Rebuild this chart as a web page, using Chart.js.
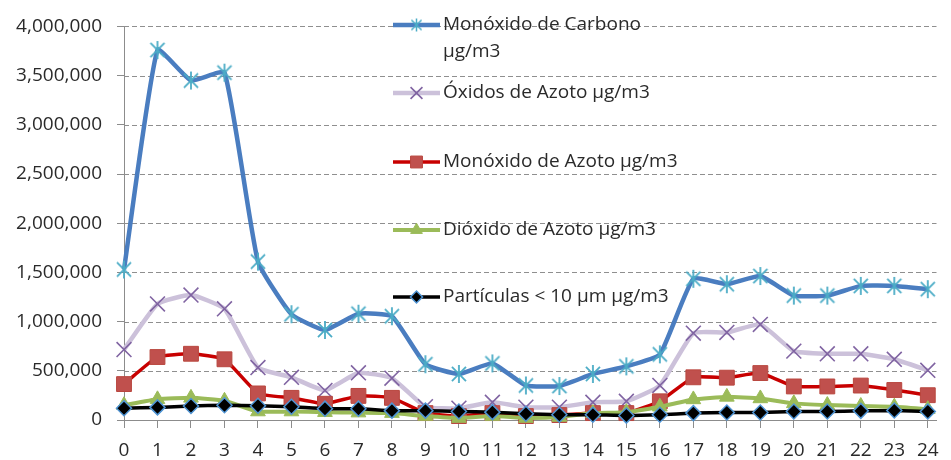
<!DOCTYPE html>
<html>
<head>
<meta charset="utf-8">
<script src="https://cdn.jsdelivr.net/npm/chart.js@4.4.1/dist/chart.umd.min.js"></script>
<style>
  html, body { margin: 0; padding: 0; background: #ffffff; }
  canvas { display: block; }
</style>
</head>
<body>
<canvas id="chart" width="951" height="460"></canvas>
<script>
// Hours of the day (x categories) and y-axis ticks
const hours = [0,1,2,3,4,5,6,7,8,9,10,11,12,13,14,15,16,17,18,19,20,21,22,23,24];
const yTickValues = [0,500000,1000000,1500000,2000000,2500000,3000000,3500000,4000000];

// Legend labels (already split into the lines they are shown on)
const seriesLabels = [
  ['Monóxido de Carbono', 'µg/m3'],
  ['Óxidos de Azoto µg/m3'],
  ['Monóxido de Azoto µg/m3'],
  ['Dióxido de Azoto µg/m3'],
  ['Partículas < 10 µm µg/m3']
];

// Hourly concentrations
const carbonMonoxide  = [1530000,3760000,3450000,3530000,1610000,1075000,915000,1080000,1055000,567000,468000,575000,351000,345000,468000,545000,667000,1435000,1380000,1463000,1264000,1264000,1363000,1363000,1330000];
const nitrogenOxides  = [716000,1180000,1270000,1130000,533000,434000,301000,480000,425000,135000,120000,180000,130000,130000,180000,190000,351000,882000,890000,971000,700000,673000,673000,617000,505000];
const nitricOxide     = [365000,640000,673000,617000,270000,225000,165000,245000,225000,70000,40000,70000,40000,50000,70000,70000,190000,434000,430000,477000,341000,341000,350000,305000,252000];
const nitrogenDioxide = [150000,210000,225000,195000,86000,86000,80000,75000,70000,40000,20000,40000,20000,30000,70000,80000,135000,209000,235000,219000,169000,152000,142000,135000,110000];
const particles       = [120000,128000,142000,150000,145000,135000,115000,115000,95000,95000,86000,80000,63000,53000,53000,45000,53000,70000,76000,76000,86000,86000,93000,96000,86000];

const FONT = '"Open Sans", "Noto Sans", sans-serif';
const TEXT = '#2a2a2a';
const AXIS = '#8c8c8c';
Chart.defaults.font.family = FONT;
Chart.defaults.font.size = 19;
Chart.defaults.color = TEXT;

// Six-armed asterisk marker (an X with a vertical stroke)
function asterisk(size, color, width) {
  const c = document.createElement('canvas');
  c.width = size; c.height = size;
  const g = c.getContext('2d');
  const m = size / 2, r = size / 2 - 1, d = r * 0.78;
  g.strokeStyle = color;
  g.lineWidth = width;
  g.beginPath();
  g.moveTo(m, m - r); g.lineTo(m, m + r);
  g.moveTo(m - d, m - d); g.lineTo(m + d, m + d);
  g.moveTo(m - d, m + d); g.lineTo(m + d, m - d);
  g.stroke();
  return c;
}
const starMarker = asterisk(20, '#4bacc6', 1.8);
const starMarkerSmall = asterisk(15, '#4bacc6', 1.5);

const toPoints = arr => arr.map((v, i) => ({ x: hours[i], y: v }));

const datasets = [
  { label: seriesLabels[0], data: toPoints(carbonMonoxide), borderColor: '#4a7dc0', borderWidth: 4.5,
    pointStyle: starMarker, legendStyle: starMarkerSmall, pointRadius: 10, order: 5 },
  { label: seriesLabels[1], data: toPoints(nitrogenOxides), borderColor: '#ccc1da', borderWidth: 4.5,
    pointStyle: 'crossRot', pointRadius: 10.5, pointBorderColor: '#8064a2', pointBackgroundColor: '#8064a2',
    pointBorderWidth: 1.6, order: 4 },
  { label: seriesLabels[2], data: toPoints(nitricOxide), borderColor: '#c80000', borderWidth: 3.5,
    pointStyle: 'rect', pointRadius: 10.5, pointBorderColor: '#b9473f', pointBackgroundColor: '#c0504d',
    pointBorderWidth: 1, order: 3 },
  { label: seriesLabels[3], data: toPoints(nitrogenDioxide), borderColor: '#9bbb59', borderWidth: 4,
    pointStyle: 'triangle', pointRadius: 8.5, pointBorderColor: '#9bbb59', pointBackgroundColor: '#9bbb59',
    pointBorderWidth: 1, order: 2 },
  { label: seriesLabels[4], data: toPoints(particles), borderColor: '#000000', borderWidth: 3.5,
    pointStyle: 'rectRot', pointRadius: 7.5, pointBorderColor: '#4f94d4', pointBackgroundColor: '#000000',
    pointBorderWidth: 1.5, order: 1 }
];
datasets.forEach(d => {
  d.tension = 0.14;
  d.clip = false;
  d.fill = false;
  d.pointHoverRadius = d.pointRadius;
});

// Dashed horizontal grid lines at each y tick (the zero line is the x axis)
const dashedGrid = {
  id: 'dashedGrid',
  beforeDatasetsDraw(chart) {
    const { ctx, chartArea, scales } = chart;
    ctx.save();
    ctx.strokeStyle = '#8f8f8f';
    ctx.lineWidth = 1;
    ctx.setLineDash([5, 3]);
    yTickValues.forEach(v => {
      if (v === 0) return;
      const y = Math.round(scales.y.getPixelForValue(v)) + 0.5;
      ctx.beginPath();
      ctx.moveTo(chartArea.left, y);
      ctx.lineTo(chartArea.right, y);
      ctx.stroke();
    });
    ctx.restore();
  }
};

// Legend drawn inside the plot, one entry per row
const legendRows = [25, 93, 162, 230, 297];
const sideLegend = {
  id: 'sideLegend',
  afterDatasetsDraw(chart) {
    const ctx = chart.ctx;
    const x0 = 393, x1 = 440, tx = 443, lineGap = 27;
    chart.data.datasets.forEach((ds, i) => {
      const y = legendRows[i];
      ctx.save();
      ctx.strokeStyle = ds.borderColor;
      ctx.lineWidth = ds.borderWidth;
      ctx.beginPath();
      ctx.moveTo(x0, y); ctx.lineTo(x1, y);
      ctx.stroke();
      const cx = (x0 + x1) / 2;
      if (typeof ds.pointStyle === 'string') {
        ctx.fillStyle = ds.pointBackgroundColor;
        ctx.strokeStyle = ds.pointBorderColor;
        ctx.lineWidth = ds.pointBorderWidth;
        Chart.helpers.drawPoint(ctx, { pointStyle: ds.pointStyle, rotation: 0,
          radius: ds.pointRadius * 0.8, borderWidth: ds.pointBorderWidth }, cx, y);
      } else {
        const img = ds.legendStyle;
        ctx.drawImage(img, cx - img.width / 2, y - img.height / 2);
      }
      ctx.fillStyle = TEXT;
      ctx.font = '19px ' + FONT;
      ctx.textAlign = 'left';
      ctx.textBaseline = 'middle';
      ds.label.forEach((line, k) => ctx.fillText(line, tx, y + k * lineGap));
      ctx.restore();
    });
  }
};

new Chart(document.getElementById('chart'), {
  type: 'line',
  data: { datasets },
  plugins: [dashedGrid, sideLegend],
  options: {
    responsive: false,
    animation: false,
    events: [],
    layout: { padding: { top: 18, right: 0, bottom: 0, left: 0 } },
    plugins: { legend: { display: false }, tooltip: { enabled: false } },
    scales: {
      x: {
        type: 'linear',
        min: 0,
        max: 24.26,
        afterBuildTicks: s => { s.ticks = hours.map(v => ({ value: v })); },
        afterFit: s => { s.height = 40; s.paddingLeft = 0; s.paddingRight = 0; },
        ticks: { padding: 11, maxRotation: 0, autoSkip: false, color: TEXT,
                 callback: v => String(v) },
        grid: { drawOnChartArea: false, drawTicks: true, tickLength: 8, color: AXIS, lineWidth: 1 },
        border: { display: true, color: AXIS, width: 1 }
      },
      y: {
        min: 0,
        max: 4000000,
        afterBuildTicks: s => { s.ticks = yTickValues.map(v => ({ value: v })); },
        afterFit: s => { s.width = 124; },
        ticks: { padding: 15, color: TEXT, callback: v => v.toLocaleString('en-US') },
        grid: { drawOnChartArea: false, drawTicks: true, tickLength: 7, color: AXIS, lineWidth: 1 },
        border: { display: true, color: AXIS, width: 1 }
      }
    }
  }
});
</script>
</body>
</html>
